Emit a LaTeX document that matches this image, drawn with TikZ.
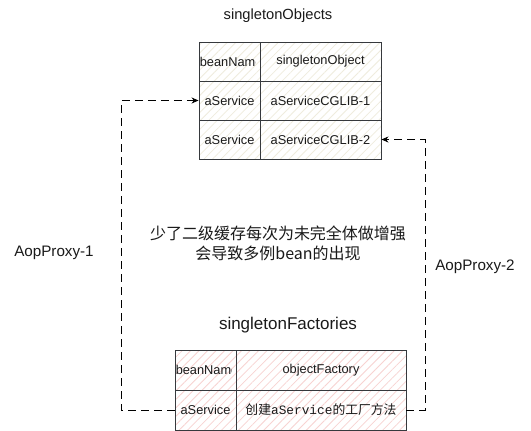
\documentclass[tikz,border=0pt]{standalone}
\usepackage{fontspec}
\setmainfont{Liberation Sans}
\newfontfamily\cjk{Noto Sans CJK SC}
\newfontfamily\monofont{Liberation Mono}
\usetikzlibrary{patterns.meta,arrows.meta}
\definecolor{gridgray}{HTML}{36393D}
\definecolor{objhatch}{HTML}{EFECDD}
\definecolor{facthatch}{HTML}{F8D3D1}
\definecolor{textgray}{HTML}{1A1A1A}

\begin{document}
\begin{tikzpicture}[
  x=1pt,y=-1pt,
  cell/.style={draw=gridgray,line width=0.9pt,inner sep=0pt,minimum height=39pt,
    text=textgray,font=\fontsize{12.8}{15}\selectfont},
  objcell/.style={cell,pattern={Lines[angle=45,distance=6pt,line width=0.8pt]},pattern color=objhatch},
  factcell/.style={cell,minimum height=40pt,pattern={Lines[angle=45,distance=6pt,line width=0.8pt]},pattern color=facthatch},
  title/.style={font=\fontsize{14.7}{17}\selectfont,text=textgray},
  proxy/.style={font=\fontsize{15.2}{18}\selectfont,text=textgray},
  flow/.style={draw=black,line width=0.8pt,dash pattern=on 8pt off 5pt,-{Stealth[length=7pt,width=6pt]}}
]
\useasboundingbox[fill=white] (0,0) rectangle (531,431);

% singletonObjects table
\node[title] (objtitle) at (278,16) {singletonObjects};
\node[objcell,minimum width=61pt] (o1a) at (229.5,61.5) {};
\node[objcell,minimum width=121pt] (o1b) at (320.5,61.5) {singletonObject};
\node[objcell,minimum width=61pt] (o2a) at (229.5,100.5) {aService};
\node[objcell,minimum width=121pt] (o2b) at (320.5,100.5) {aServiceCGLIB-1};
\node[objcell,minimum width=61pt] (o3a) at (229.5,139.5) {aService};
\node[objcell,minimum width=121pt] (o3b) at (320.5,139.5) {aServiceCGLIB-2};
\begin{scope}
  \clip (o1a.south west) rectangle ([xshift=-4.5pt]o1a.north east);
  \node[anchor=west,inner sep=0pt,text=textgray,font=\fontsize{12.8}{15}\selectfont] (o1text) at ([xshift=1pt]o1a.west) {beanName};
\end{scope}

% singletonFactories table
\node[title,font=\fontsize{17}{20}\selectfont] (facttitle) at (288,325) {singletonFactories};
\node[factcell,minimum width=61pt] (f1a) at (205.5,370) {};
\node[factcell,minimum width=170pt] (f1b) at (321,370) {objectFactory};
\node[factcell,minimum width=61pt] (f2a) at (205.5,410) {aService};
\node[factcell,minimum width=170pt] (f2b) at (321,410) {\cjk 创建\monofont aService\cjk 的工厂方法};
\begin{scope}
  \clip (f1a.south west) rectangle ([xshift=-4.5pt]f1a.north east);
  \node[anchor=west,inner sep=0pt,text=textgray,font=\fontsize{12.8}{15}\selectfont] (f1text) at ([xshift=1pt]f1a.west) {beanName};
\end{scope}

% proxies
\coordinate (lcorner) at (121,100.5);
\coordinate (rcorner) at (425,139.5);
\draw[flow] (f2a.west) -| (lcorner) -- (o2a.west);
\draw[flow] (f2b.east) -| (rcorner) -- (o3b.east);
\node[proxy] (proxy1) at (54,253) {AopProxy-1};
\node[proxy] (proxy2) at (475,267) {AopProxy-2};

\node[font=\cjk\fontsize{16}{20}\selectfont,text=textgray,align=center] (note) at (278,243)
  {少了二级缓存每次为未完全体做增强\\会导致多例bean的出现};
\end{tikzpicture}
\end{document}
